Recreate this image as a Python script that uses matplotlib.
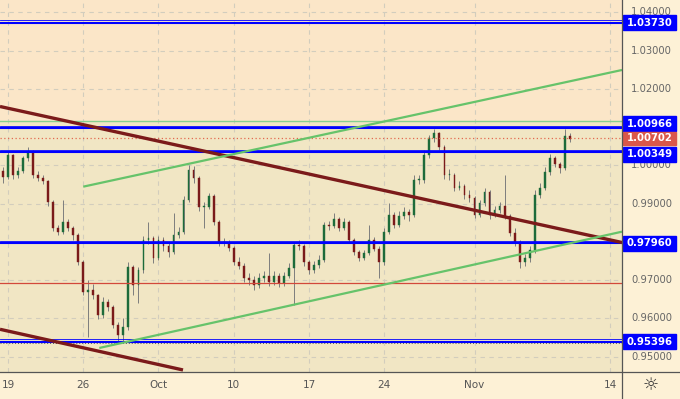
import matplotlib
matplotlib.use("Agg")
import matplotlib.pyplot as plt
from matplotlib.patches import Rectangle
from matplotlib.lines import Line2D

# bars: 3 per trading day, t = trading days counted from Mon 19 Sep
t_start = -1 / 3
t_step = 1 / 3
open_first = 0.9985

closes = [0.9970, 1.0027, 0.9975, 0.9985, 1.0019, 1.0035, 0.9975, 0.9967, 0.9959, 0.9904,
          0.9836, 0.9826, 0.9852, 0.9836, 0.9818, 0.9747, 0.9669, 0.9674, 0.9661, 0.9609,
          0.9643, 0.9630, 0.9583, 0.9557, 0.9578, 0.9735, 0.9687, 0.9727, 0.9805, 0.9810,
          0.9758, 0.9805, 0.9789, 0.9773, 0.9818, 0.9826, 0.9910, 0.9988, 0.9967, 0.9891,
          0.9891, 0.9920, 0.9852, 0.9797, 0.9797, 0.9784, 0.9747, 0.9737, 0.9706, 0.9700,
          0.9687, 0.9706, 0.9711, 0.9695, 0.9711, 0.9693, 0.9711, 0.9732, 0.9792, 0.9789,
          0.9747, 0.9727, 0.9740, 0.9753, 0.9844, 0.9842, 0.9860, 0.9836, 0.9852, 0.9805,
          0.9773, 0.9758, 0.9771, 0.9805, 0.9781, 0.9747, 0.9826, 0.9870, 0.9844, 0.9867,
          0.9878, 0.9870, 0.9962, 0.9962, 1.0027, 1.0071, 1.0084, 1.0048, 0.9975, 0.9975,
          0.9941, 0.9946, 0.9923, 0.9915, 0.9870, 0.9902, 0.9930, 0.9870, 0.9883, 0.9894,
          0.9867, 0.9823, 0.9800, 0.9747, 0.9758, 0.9779, 0.9923, 0.9941, 0.9983, 1.0019,
          1.0003, 0.9993, 1.0077, 1.0070]

highs = [0.9995, 1.0035, 1.0030, 0.9995, 1.0025, 1.0048, 1.0040, 0.9985, 0.9975, 0.9962,
         0.9910, 0.9845, 0.9910, 0.9860, 0.9842, 0.9822, 0.9752, 0.9700, 0.9690, 0.9665,
         0.9655, 0.9650, 0.9635, 0.9590, 0.9600, 0.9747, 0.9740, 0.9735, 0.9815, 0.9852,
         0.9815, 0.9815, 0.9812, 0.9800, 0.9875, 0.9840, 0.9920, 1.0001, 0.9998, 0.9972,
         0.9905, 0.9928, 0.9925, 0.9858, 0.9810, 0.9805, 0.9790, 0.9760, 0.9745, 0.9720,
         0.9712, 0.9718, 0.9725, 0.9771, 0.9725, 0.9718, 0.9722, 0.9745, 0.9800, 0.9805,
         0.9795, 0.9752, 0.9750, 0.9765, 0.9852, 0.9855, 0.9875, 0.9865, 0.9862, 0.9856,
         0.9810, 0.9780, 0.9780, 0.9844, 0.9812, 0.9788, 0.9835, 0.9902, 0.9878, 0.9880,
         0.9890, 0.9885, 0.9975, 0.9975, 1.0040, 1.0080, 1.0094, 1.0088, 1.0052, 0.9990,
         0.9980, 0.9958, 0.9950, 0.9935, 0.9920, 0.9910, 0.9940, 0.9935, 0.9895, 0.9905,
         0.9975, 0.9872, 0.9835, 0.9805, 0.9768, 0.9790, 0.9935, 0.9955, 0.9995, 1.0030,
         1.0025, 1.0010, 1.0094, 1.0085]

lows = [0.9955, 0.9965, 0.9965, 0.9968, 0.9980, 1.0012, 0.9968, 0.9958, 0.9950, 0.9895,
        0.9828, 0.9818, 0.9820, 0.9828, 0.9805, 0.9740, 0.9660, 0.9551, 0.9650, 0.9598,
        0.9600, 0.9620, 0.9575, 0.9536, 0.9537, 0.9570, 0.9660, 0.9640, 0.9720, 0.9795,
        0.9745, 0.9752, 0.9775, 0.9760, 0.9768, 0.9810, 0.9820, 0.9905, 0.9955, 0.9880,
        0.9836, 0.9885, 0.9845, 0.9790, 0.9788, 0.9775, 0.9740, 0.9728, 0.9695, 0.9688,
        0.9675, 0.9680, 0.9695, 0.9685, 0.9688, 0.9682, 0.9685, 0.9705, 0.9635, 0.9778,
        0.9738, 0.9715, 0.9720, 0.9732, 0.9748, 0.9832, 0.9835, 0.9828, 0.9830, 0.9798,
        0.9765, 0.9750, 0.9752, 0.9765, 0.9775, 0.9706, 0.9740, 0.9820, 0.9835, 0.9838,
        0.9860, 0.9855, 0.9865, 0.9950, 0.9955, 1.0020, 1.0062, 1.0040, 0.9965, 0.9962,
        0.9932, 0.9935, 0.9912, 0.9905, 0.9862, 0.9865, 0.9895, 0.9860, 0.9865, 0.9875,
        0.9860, 0.9815, 0.9790, 0.9732, 0.9738, 0.9748, 0.9772, 0.9915, 0.9935, 0.9975,
        0.9995, 0.9980, 0.9988, 1.0062]

# horizontal levels
blue_levels = [1.03730, 1.00966, 1.00349, 0.97960, 0.95396]
label_shift = [0, 4.5, -2.5, 0, 0]   # label box nudges on the price scale, px
last_price = 1.00702
green_level = 1.01160
red_level = 0.96920
price_ticks = [1.04, 1.03, 1.02, 1.01, 1.00, 0.99, 0.98, 0.97, 0.96, 0.95]
shown_ticks = [1.04, 1.03, 1.02, 1.00, 0.99, 0.97, 0.96, 0.95]

# trend lines: (t1, p1, t2, p2)
maroon_lines = [(-0.53, 1.01538, 40.80, 0.97984), (-0.53, 0.95716, 11.63, 0.94653)]
green_lines = [(5.00, 0.99443, 40.80, 1.02492), (6.07, 0.95228, 40.80, 0.98267)]

date_pos = [0, 5, 10, 15, 20, 25, 31, 40]
date_labels = ["19", "26", "Oct", "10", "17", "24", "Nov", "14"]

x_min, x_max = -0.53, 40.80
y_min, y_max = 0.9460, 1.04321
px = (y_max - y_min) / 372.0  # price per pixel

panel = "#fdf1d6"
fig = plt.figure(figsize=(6.8, 3.99), dpi=100, facecolor=panel)
ax = fig.add_axes([0, 27 / 399, 622 / 680, 372 / 399])
ax.set_facecolor("#f1e6c4")
ax.set_xlim(x_min, x_max)
ax.set_ylim(y_min, y_max)
for s in ax.spines.values():
    s.set_visible(False)

# peach zone above the green level
ax.axhspan(green_level, y_max, color="#fbe6c8", zorder=0)

# grid
for p in price_ticks:
    ax.axhline(p, color="#d2cdbd", lw=0.8, ls=(0, (4, 4)), zorder=1)
for d in date_pos:
    ax.axvline(d, color="#d2cdbd", lw=0.8, ls=(0, (4, 4)), zorder=1)

# candles
opens = [open_first] + closes[:-1]
times = [t_start + i * t_step for i in range(len(closes))]
for t, o, h, l, c in zip(times, opens, highs, lows, closes):
    col = "#1d6b3a" if c >= o else "#7a1a1a"
    ax.vlines(t, l, h, color="#7d7d7d", lw=0.7, zorder=3)
    lo, hi = min(o, c), max(o, c)
    ax.bar(t, max(hi - lo, 0.00015), bottom=lo, width=0.12, color=col,
           edgecolor=col, lw=0.3, zorder=4)

# horizontal lines
ax.axhline(green_level, color="#86d08f", lw=1.0, zorder=5)
ax.axhline(red_level, color="#d2483b", lw=0.9, zorder=5)
ax.axhline(last_price, color="#e26a4f", lw=0.9, ls=(0, (1, 2)), zorder=5)
ax.axhline(0.95350, color="#555555", lw=0.7, ls=(0, (1, 2)), zorder=5)
for lv in blue_levels:
    ax.axhline(lv, color="#0000ff", lw=1.5, zorder=6)
    ax.axhline(lv + 2.4 * px, color="#0000ff", lw=0.6, zorder=6)

# trend lines
for t1, p1, t2, p2 in maroon_lines:
    ax.plot([t1, t2], [p1, p2], color="#7b1a1a", lw=2.4, solid_capstyle="butt", zorder=7)
for t1, p1, t2, p2 in green_lines:
    ax.plot([t1, t2], [p1, p2], color="#66c36a", lw=1.6, solid_capstyle="butt", zorder=7)

ax.set_xticks(date_pos)
ax.set_xticklabels(date_labels)
ax.tick_params(axis="x", length=0, pad=6, labelsize=7.5, labelcolor="#555555")
ax.set_yticks([])

# price scale panel
ax2 = fig.add_axes([622 / 680, 27 / 399, 58 / 680, 372 / 399])
ax2.set_facecolor(panel)
ax2.set_xlim(0, 58)
ax2.set_ylim(y_min, y_max)
ax2.axis("off")
for p in shown_ticks:
    ax2.text(29.5, p, f"{p:.5f}", ha="center", va="center", fontsize=7.2,
             color="#666666", zorder=1)
for lv, sh in zip(blue_levels, label_shift):
    yc = lv + sh * px
    ax2.add_patch(Rectangle((0.8, yc - 7.5 * px), 53.5, 15 * px, color="#0000ff", zorder=2))
    ax2.text(27.5, yc, f"{lv:.5f}", ha="center", va="center", fontsize=7.3,
             fontweight="bold", color="white", zorder=3)
ax2.add_patch(Rectangle((0.8, last_price - 6.5 * px), 53.5, 13 * px, color="#d9574a", zorder=2))
ax2.text(27.5, last_price, f"{last_price:.5f}", ha="center", va="center", fontsize=7.3,
         fontweight="bold", color="white", zorder=3)

# frame lines
fig.add_artist(Line2D([622 / 680, 622 / 680], [0, 1], color="#555555", lw=0.9))
fig.add_artist(Line2D([0, 1], [27 / 399, 27 / 399], color="#555555", lw=0.9))
fig.text(651 / 680, 14 / 399, "\u263c", ha="center", va="center", fontsize=13, color="#333333")

fig.savefig("out.png", dpi=100, facecolor=panel)
